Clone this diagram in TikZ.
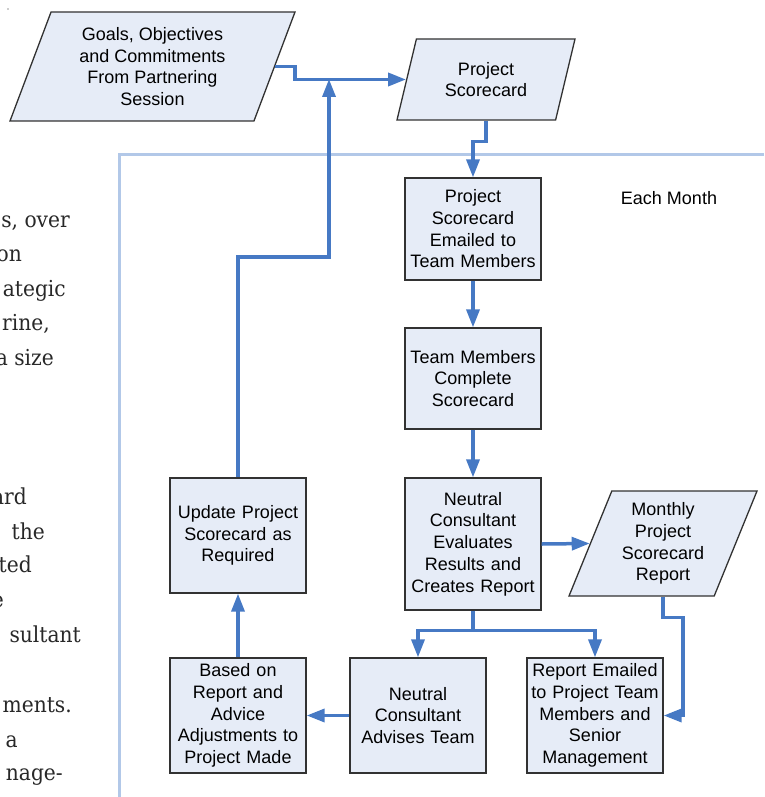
\documentclass[tikz,border=0pt]{standalone}
\usepackage{xcolor}
\usepackage{fontspec}
\setmainfont{Liberation Sans}
\newfontfamily\pageserif[FakeStretch=0.92]{DejaVu Serif}
\usetikzlibrary{shapes.geometric,arrows.meta}

\definecolor{flowblue}{RGB}{70,121,196}
\definecolor{boxfill}{RGB}{230,236,247}
\definecolor{boxline}{RGB}{50,50,50}
\definecolor{frameblue}{RGB}{178,200,232}
\definecolor{pagetext}{RGB}{40,40,40}

\begin{document}
\begin{tikzpicture}[x=1pt,y=-1pt]
			\tikzstyle{step box}=[rectangle,draw=boxline,line width=1.3pt,fill=boxfill,minimum width=136pt,inner sep=2pt,text width=132pt,align=center,font=\fontsize{18}{21.7}\selectfont]
			\tikzstyle{data}=[trapezium,trapezium left angle=63.5,trapezium right angle=116.5,trapezium stretches body,draw=boxline,line width=1.3pt,fill=boxfill,align=center,inner sep=2pt,font=\fontsize{18}{21.7}\selectfont]
			\tikzstyle{page}=[anchor=base east,inner sep=0pt,text=pagetext,font=\pageserif\fontsize{22}{26}\selectfont]
			\tikzset{edge/.style = {->,> = {Triangle[length=18pt,width=13pt]},draw=flowblue,line width=3.5pt}}
			\useasboundingbox (0,0) rectangle (764,797);
			
			% text of the page beside the chart
			\node[page](p1) at (70,227) {s, over};
			\node[page](p2) at (22,261) {on};
			\node[page](p3) at (66,296) {ategic};
			\node[page](p4) at (50,330) {rine,};
			\node[page](p5) at (54,365) {a size};
			\node[page](p6) at (27,504) {ard};
			\node[page](p7) at (45,539) {the};
			\node[page](p8) at (32,572) {ted};
			\node[page](p9) at (4,607) {e};
			\node[page](p10) at (81,642) {sultant};
			\node[page](p11) at (72,712) {ments.};
			\node[page](p12) at (18,747) {a};
			\node[page](p13) at (63,780) {nage-};
			\fill[pagetext] (8,9) circle (0.7);
			
			% monthly frame
			\draw[frameblue,line width=3pt] (764,154) -| (119,797);
			
			\node[data,minimum width=285pt,minimum height=109pt](goals) at (152.5,66.5) {Goals, Objectives\\and Commitments\\From Partnering\\Session};
			\node[data,minimum width=178pt,minimum height=81pt](card) at (486,79.5) {Project\\Scorecard};
			\node[step box,minimum height=102pt](email) at (473,229) {Project\\Scorecard\\Emailed to\\Team Members};
			\node[step box,minimum height=101pt](complete) at (473,378.5) {Team Members\\Complete\\Scorecard};
			\node[step box,minimum height=132pt](evaluate) at (473,544) {Neutral\\Consultant\\Evaluates\\Results and\\Creates Report};
			\node[data,minimum width=188pt,minimum height=105pt](monthly) at (663,543.5) {Monthly\\Project\\Scorecard\\Report};
			\node[step box,minimum height=115pt](report) at (595,715.5) {Report Emailed\\to Project Team\\Members and\\Senior\\Management};
			\node[step box,minimum height=115pt](advise) at (418,715.5) {Neutral\\Consultant\\Advises Team};
			\node[step box,minimum height=115pt](adjust) at (238,715.5) {Based on\\Report and\\Advice\\Adjustments to\\Project Made};
			\node[step box,minimum height=115pt](update) at (238,535.5) {Update Project\\Scorecard as\\Required};
			\node[font=\fontsize{18}{21.7}\selectfont](month) at (669,198) {Each Month};
			\coordinate (join) at (329,79);
			
			\draw[edge] (goals.east) -- ++(20,0) |- (card.west);
			\draw[edge] (update.north) -- (238,257) -| (join);
			\draw[edge] (card.south) -- ++(0,21) -| (email.north);
			\draw[edge] (email) to (complete);
			\draw[edge] (complete) to (evaluate);
			\draw[edge] (evaluate.east) to (monthly.west);
			\draw[edge] (monthly.south) -- ++(0,21) -- ++(20,0) |- (report.east);
			\draw[edge] (evaluate.south) -- ++(0,20) -| (advise.north);
			\draw[edge] (evaluate.south) -- ++(0,20) -| (report.north);
			\draw[edge] (advise) to (adjust);
			\draw[edge] (adjust) to (update);
			\end{tikzpicture}
\end{document}
